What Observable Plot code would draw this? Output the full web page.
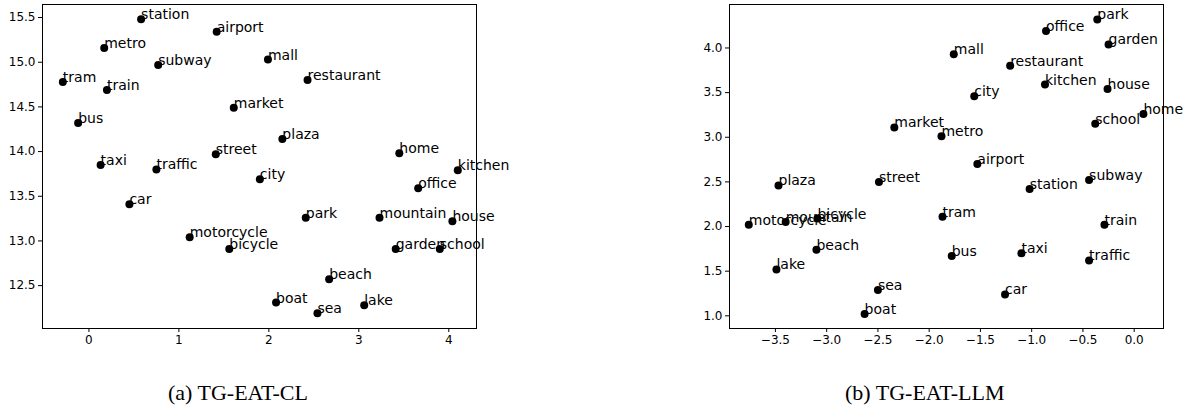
<!DOCTYPE html>
<html>
<head>
<meta charset="utf-8">
<script src="https://cdn.jsdelivr.net/npm/d3@7"></script>
<script src="https://cdn.jsdelivr.net/npm/@observablehq/plot@0.6"></script>
<style>
  html, body { margin: 0; padding: 0; background: white; }
  body { width: 1193px; height: 412px; position: relative; overflow: hidden; }
  .panel { position: absolute; top: 0; }
  .cap { position: absolute; font-family: "Liberation Serif", "Times New Roman", serif; font-size: 22px; color: black; white-space: nowrap; line-height: 1; }
</style>
</head>
<body>
<div id="left" class="panel" style="left:0px"></div>
<div id="right" class="panel" style="left:690px"></div>
<div class="cap" id="capA" style="left:168px; top:382px"></div>
<div class="cap" id="capB" style="left:845px; top:382px"></div>
<script>
// ---- Panel (a) TG-EAT-CL ----
const wordsA = ["station","airport","metro","subway","tram","train","market","bus","street","taxi","traffic","mall","restaurant","plaza","home","city","kitchen","office","car","motorcycle","bicycle","park","mountain","house","garden","school","beach","boat","sea","lake"];
const xA = [0.58,1.42,0.17,0.77,-0.29,0.20,1.61,-0.12,1.41,0.13,0.75,1.99,2.43,2.15,3.45,1.90,4.10,3.66,0.45,1.12,1.56,2.41,3.23,4.04,3.41,3.90,2.67,2.08,2.54,3.06];
const yA = [15.48,15.34,15.16,14.97,14.78,14.69,14.49,14.32,13.97,13.85,13.80,15.03,14.80,14.14,13.98,13.69,13.79,13.59,13.41,13.04,12.91,13.26,13.26,13.22,12.91,12.91,12.57,12.31,12.19,12.28];
const xTicksA = [0,1,2,3,4];
const yTicksA = [12.5,13.0,13.5,14.0,14.5,15.0,15.5];
const captionA = "(a) TG-EAT-CL";

// ---- Panel (b) TG-EAT-LLM ----
const wordsB = ["plaza","street","market","metro","mall","office","park","garden","restaurant","kitchen","house","city","home","school","airport","station","subway","motorcycle","mountain","bicycle","beach","lake","sea","boat","tram","train","bus","taxi","traffic","car"];
const xB = [-3.47,-2.49,-2.34,-1.88,-1.76,-0.86,-0.36,-0.25,-1.21,-0.87,-0.26,-1.56,0.09,-0.38,-1.53,-1.02,-0.44,-3.76,-3.40,-3.09,-3.10,-3.49,-2.50,-2.63,-1.87,-0.29,-1.78,-1.10,-0.44,-1.26];
const yB = [2.46,2.50,3.11,3.01,3.93,4.19,4.32,4.04,3.80,3.59,3.54,3.46,3.26,3.15,2.70,2.42,2.52,2.02,2.05,2.09,1.74,1.52,1.29,1.02,2.11,2.02,1.67,1.70,1.62,1.24];
const xTicksB = [-3.5,-3.0,-2.5,-2.0,-1.5,-1.0,-0.5,0.0];
const yTicksB = [1.0,1.5,2.0,2.5,3.0,3.5,4.0];
const captionB = "(b) TG-EAT-LLM";

const rowsA = wordsA.map((w, i) => ({word: w, x: xA[i], y: yA[i]}));
const rowsB = wordsB.map((w, i) => ({word: w, x: xB[i], y: yB[i]}));

function panel(rows, opts) {
  return Plot.plot({
    width: opts.width,
    height: 360,
    marginLeft: opts.marginLeft,
    marginRight: opts.marginRight,
    marginTop: 4,
    marginBottom: 32,
    x: {domain: opts.xDomain},
    y: {domain: opts.yDomain},
    style: {fontFamily: "DejaVu Sans", fontSize: "12px", color: "black", background: "white", overflow: "visible"},
    marks: [
      Plot.axisX({ticks: opts.xTicks, tickFormat: opts.xFormat, tickSize: 4, tickPadding: 3, label: null, stroke: "black"}),
      Plot.axisY({ticks: opts.yTicks, tickFormat: d3.format(".1f"), tickSize: 4, tickPadding: 3, label: null, stroke: "black"}),
      Plot.frame({stroke: "black", strokeWidth: 1}),
      Plot.dot(rows, {x: "x", y: "y", r: 4, fill: "black", stroke: "none"}),
      Plot.text(rows, {x: "x", y: "y", text: "word", textAnchor: "start", lineAnchor: "bottom", fontSize: 14, fontFamily: "DejaVu Sans", fill: "black"})
    ]
  });
}

document.getElementById("left").append(panel(rowsA, {
  width: 530, marginLeft: 42, marginRight: 54,
  xDomain: [-0.516, 4.308], yDomain: [12.02, 15.646],
  xTicks: xTicksA, yTicks: yTicksA, xFormat: d3.format("d")
}));
document.getElementById("right").append(panel(rowsB, {
  width: 503, marginLeft: 39, marginRight: 30,
  xDomain: [-3.948, 0.286], yDomain: [0.858, 4.487],
  xTicks: xTicksB, yTicks: yTicksB, xFormat: d3.format(".1f")
}));
document.getElementById("capA").textContent = captionA;
document.getElementById("capB").textContent = captionB;
</script>
</body>
</html>
